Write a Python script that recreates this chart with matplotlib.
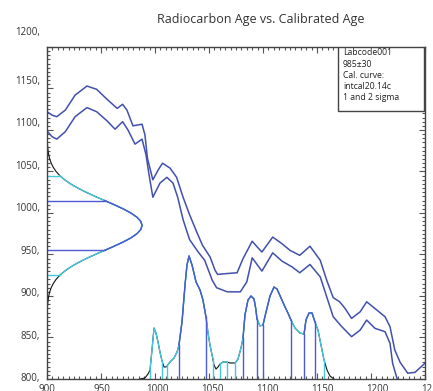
import matplotlib
matplotlib.use("Agg")
import matplotlib.pyplot as plt
from matplotlib.patches import Rectangle
from matplotlib.ticker import MultipleLocator
import matplotlib.transforms as mtransforms
import numpy as np

plt.rcParams['font.family'] = ['Open Sans', 'DejaVu Sans']
plt.rcParams['lines.solid_joinstyle'] = 'round'

# calibration curve, upper and lower bound (cal AD vs radiocarbon age BP)
upper_x = [900, 904.6, 909, 917, 926, 937, 946, 955.6, 965, 970, 974, 979.6, 988, 990.7,
           993, 998, 1003, 1007, 1014, 1020, 1026, 1032, 1039, 1044, 1051, 1055.6, 1058,
           1066, 1076, 1081.5, 1090, 1094, 1099, 1109, 1117.6, 1125, 1134, 1143.5, 1153,
           1159, 1165, 1171, 1176, 1182, 1190, 1196, 1205.5, 1213, 1217.6, 1222, 1227,
           1234, 1240.7, 1250]
upper_y = [1122, 1118, 1116, 1124, 1142, 1153, 1149, 1137, 1126, 1131, 1124, 1105, 1107, 1094,
           1066, 1040, 1052, 1060, 1054, 1043, 1019, 998, 976, 961, 947, 931, 926,
           927, 928, 945, 966, 960, 953, 971, 963, 955, 949, 960, 943,
           919, 898, 893, 885, 873, 881, 893, 883, 875, 863, 835, 820,
           807, 808, 819]

lower_x = [900, 904.6, 909, 917, 926, 937, 946, 955.6, 963, 970, 975, 981.5, 988, 991.7,
           994, 998, 1004.6, 1011, 1016.7, 1021, 1026, 1032, 1040, 1046, 1053, 1057, 1067,
           1079, 1085, 1090, 1099, 1109, 1117.6, 1127, 1134, 1143.5, 1153, 1159, 1165,
           1173, 1182, 1190, 1196, 1203.7, 1213, 1217.6, 1220, 1224, 1227]
lower_y = [1099, 1092, 1089, 1098, 1116, 1127, 1122, 1111, 1101, 1110, 1100, 1083, 1089, 1070,
           1050, 1019, 1036, 1043, 1036, 1019, 992, 968, 953, 943, 919, 910, 905,
           905, 917, 946, 930, 952, 942, 935, 928, 938, 923, 899, 875,
           863, 851, 859, 871, 861, 857, 843, 819, 801, 796]

# radiocarbon date 985 +- 30, drawn against the y axis
c14_mean = 985
c14_sigma = 30
gauss_age = list(range(880, 1095, 5))
gauss_width = [0.15, 0.3, 0.6, 1.0, 1.6, 2.5, 3.9, 5.8, 8.4, 11.9, 16.4, 21.9, 28.6, 36.2,
               44.6, 53.4, 62.2, 70.5, 77.7, 83.2, 86.8, 88, 86.8, 83.2, 77.7, 70.5, 62.2,
               53.4, 44.6, 36.2, 28.6, 21.9, 16.4, 11.9, 8.4, 5.8, 3.9, 2.5, 1.6, 1.0, 0.6,
               0.3, 0.15]

# calibrated age distribution, drawn above the x axis
dist_x = [986.1, 990.7, 993.5, 995.4, 997.2, 999.1, 1000.9, 1002.8, 1004.6, 1006.5, 1008.3,
          1010.2, 1011.1, 1013.9, 1017.6, 1020.4, 1022.2, 1025, 1027.8, 1029.6, 1031.5,
          1034.3, 1038, 1041.7, 1044.4, 1047.2, 1049.1, 1050.9, 1053.4, 1054.6, 1056.5,
          1058.3, 1060.2, 1063, 1066.4, 1069.4, 1074.1, 1076.9, 1079.6, 1081.5, 1083.3,
          1086.1, 1088.9, 1091.7, 1093.5, 1094.4, 1097.2, 1100, 1102.8, 1106.5, 1110.2,
          1113, 1116.7, 1120.4, 1123.1, 1125.9, 1129.6, 1134.3, 1138, 1139.8, 1142.6,
          1145.4, 1148.1, 1150.9, 1153.7, 1156.5, 1159.3, 1162, 1165.7]
dist_y = [800, 801.2, 806, 810.8, 835, 861.4, 855.4, 844.6, 832.5, 821.7, 814.5,
          814.5, 815.7, 820.5, 825.3, 832.5, 841, 868.7, 913.3, 937.3, 948.2,
          937.3, 916.9, 907.2, 895.2, 874.7, 855.4, 841, 825.3, 816.9, 812,
          814.5, 818.1, 820.5, 820.5, 819.3, 819.3, 824.1, 837.3, 849.4, 877.1,
          895.2, 900, 896.4, 883.1, 872.3, 863.9, 865.1, 880.7, 900, 910.8,
          908.4, 897.6, 886.7, 879.5, 871.1, 861.4, 855.4, 854.2, 871.1, 879.5,
          879.5, 868.7, 859, 841, 822.9, 810.8, 803.6, 800]

one_sigma = [(1022.2, 1047.2), (1081.5, 1094.4), (1100, 1125.9), (1138, 1148.1)]
two_sigma = [(995.4, 1006.5), (1011.1, 1053.4), (1060.2, 1066.4), (1074.1, 1156.5)]

x_ticks = [900, 950, 1000, 1050, 1100, 1150, 1200, 1250]
y_ticks = [800, 850, 900, 950, 1000, 1050, 1100, 1150, 1200]

legend_lines = ["Labcode001", "985\u00b130", "Cal. curve:", "intcal20.14c", "1 and 2 sigma"]

curve_col = "#4150ad"
blue = "#4a5bd4"
cyan = "#45c8dc"
black = "#111111"

fig = plt.figure(figsize=(4.33, 3.91), dpi=100)
ax = fig.add_axes([47 / 433, 12 / 391, 378 / 433, 332 / 391])

ax.plot(upper_x, upper_y, color=curve_col, lw=1.1)
ax.plot(lower_x, lower_y, color=curve_col, lw=1.1)

# gaussian along the y axis
g_age = np.array(gauss_age)
g_x = 900 + np.array(gauss_width)
ax.plot(g_x, g_age, color=black, lw=0.8)
m2 = (g_age >= c14_mean - 2 * c14_sigma) & (g_age <= c14_mean + 2 * c14_sigma)
ax.plot(g_x[m2], g_age[m2], color=cyan, lw=1.0)
m1 = (g_age >= c14_mean - c14_sigma) & (g_age <= c14_mean + c14_sigma)
ax.plot(g_x[m1], g_age[m1], color=blue, lw=1.0)
for k, col in [(2, cyan), (1, blue)]:
    for a in [c14_mean - k * c14_sigma, c14_mean + k * c14_sigma]:
        w = np.interp(a, g_age, g_x)
        ax.plot([900, w], [a, a], color=col, lw=1.0)

# calibrated distribution
dx = np.array(dist_x)
dy = np.array(dist_y)
ax.plot(dx, dy, color=black, lw=0.8)
for lo, hi in two_sigma:
    m = (dx >= lo - 0.01) & (dx <= hi + 0.01)
    ax.plot(dx[m], dy[m], color=cyan, lw=1.0)
for lo, hi in one_sigma:
    m = (dx >= lo - 0.01) & (dx <= hi + 0.01)
    ax.plot(dx[m], dy[m], color=blue, lw=1.0)
for ranges, col in [(two_sigma, cyan), (one_sigma, blue)]:
    for lo, hi in ranges:
        for v in (lo, hi):
            ax.plot([v, v], [800, np.interp(v, dx, dy)], color=col, lw=1.0)

ax.set_xlim(900, 1250)
ax.set_ylim(800, 1200)
ax.xaxis.set_major_locator(MultipleLocator(50))
ax.xaxis.set_minor_locator(MultipleLocator(5))
ax.yaxis.set_major_locator(MultipleLocator(50))
ax.yaxis.set_minor_locator(MultipleLocator(5))
ax.tick_params(which='both', direction='in', top=True, right=True,
               labelbottom=False, labelleft=False, color="#555555", width=0.8)
ax.tick_params(which='major', length=4)
ax.tick_params(which='minor', length=2)
for s in ax.spines.values():
    s.set_color("#444444")
    s.set_linewidth(1.0)

# tick labels (drawn slightly stretched like the original)
yl_trans = mtransforms.offset_copy(ax.get_yaxis_transform(), fig=fig, x=-7, y=0, units='dots')
for v in y_ticks:
    pos = 800 + (v - 800) * 1.025
    if v == 1200:
        pos = 1217
    ax.text(0, pos, f"{v},", transform=yl_trans, ha='right', va='center',
            fontsize=7, color="#333333", clip_on=False)
xl_trans = mtransforms.offset_copy(ax.get_xaxis_transform(), fig=fig, x=0, y=-5, units='dots')
for v in x_ticks:
    ax.text(900 + (v - 900) * 1.02, 0, str(v), transform=xl_trans, ha='center', va='top',
            fontsize=7, color="#333333", clip_on=False)

# info box
ax.add_patch(Rectangle((0.770, 0.807), 0.2275, 0.193, transform=ax.transAxes,
                       facecolor='white', edgecolor="#444444", lw=1.0, zorder=5))
for i, line in enumerate(legend_lines):
    ax.text(0.783, 0.982 - i * 0.0333, line, transform=ax.transAxes, fontsize=6.2,
            color="#222222", va='center', ha='left', zorder=6)

fig.text(261 / 433, 1 - 19 / 391, "Radiocarbon Age vs. Calibrated Age", ha='center',
         va='center', fontsize=9, color="#333333")

fig.savefig("out.png", dpi=100)
